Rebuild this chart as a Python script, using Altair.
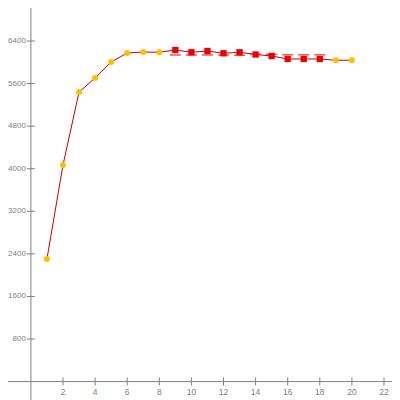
import altair as alt
import pandas as pd

xs = list(range(1, 21))
ys = [2304, 4071, 5442, 5705, 6006, 6175, 6194, 6189, 6232, 6189,
      6213, 6170, 6189, 6147, 6119, 6063, 6063, 6063, 6038, 6040]
kinds = ["a"] * 8 + ["b"] * 10 + ["a"] * 2
cap_x = [9, 10, 11, 12, 13, 14, 15, 16, 17, 18]
cap_y = [6138, 6138, 6138, 6138, 6135, 6155, 6152, 6140, 6140, 6140]
x_ticks = [2, 4, 6, 8, 10, 12, 14, 16, 18, 20, 22]
y_ticks = [800, 1600, 2400, 3200, 4000, 4800, 5600, 6400]

df = pd.DataFrame({"x": xs, "y": ys, "k": kinds})
caps = pd.DataFrame({"x": cap_x, "y": cap_y})
xt = pd.DataFrame({"x": x_ticks, "y": [0] * len(x_ticks)})
yt = pd.DataFrame({"y": y_ticks, "x": [0] * len(y_ticks)})
origin = pd.DataFrame({"x": [0], "y": [0]})

xs_ = alt.Scale(domain=[-1.427, 22.499], nice=False, zero=False)
ys_ = alt.Scale(domain=[-346, 7021], nice=False, zero=False)
X = lambda: alt.X("x:Q", scale=xs_, axis=None)
Y = lambda: alt.Y("y:Q", scale=ys_, axis=None)
gray = "#808080"

vline = alt.Chart(origin).mark_rule(color=gray, strokeWidth=1).encode(x=X())
hline = alt.Chart(origin).mark_rule(color=gray, strokeWidth=1).encode(y=Y())
xtk = alt.Chart(xt).mark_tick(orient="vertical", size=8, thickness=1, color=gray, opacity=1).encode(x=X(), y=Y())
ytk = alt.Chart(yt).mark_tick(orient="horizontal", size=8, thickness=1, color=gray, opacity=1).encode(x=X(), y=Y())
xlab = alt.Chart(xt).mark_text(baseline="top", align="center", dy=6, fontSize=8.5,
                               font="Liberation Sans", color=gray).encode(
    x=X(), y=Y(), text=alt.Text("x:Q"))
ylab = alt.Chart(yt).mark_text(baseline="middle", align="right", dx=-5, fontSize=8,
                               font="Liberation Sans", color=gray).encode(
    x=X(), y=Y(), text=alt.Text("y:Q", format="d"))

line = alt.Chart(df).mark_line(color="#cc0000", strokeWidth=1).encode(x=X(), y=Y())
capm = alt.Chart(caps).mark_tick(orient="horizontal", size=11, thickness=1, color="#dd0000", opacity=1).encode(x=X(), y=Y())
pa = alt.Chart(df).transform_filter("datum.k == 'a'").mark_point(
    shape="circle", filled=True, size=36, color="#ffbf00", opacity=1).encode(x=X(), y=Y())
pb = alt.Chart(df).transform_filter("datum.k == 'b'").mark_point(
    shape="square", filled=True, size=40, color="#ee0000", opacity=1).encode(x=X(), y=Y())

chart = alt.layer(vline, hline, xtk, ytk, xlab, ylab, line, capm, pa, pb).properties(
    width=384, height=392, padding=0, autosize=alt.AutoSizeParams(type="none")
).configure_view(stroke=None)

chart.save("out.html", embed_options={"renderer": "svg", "actions": False})
